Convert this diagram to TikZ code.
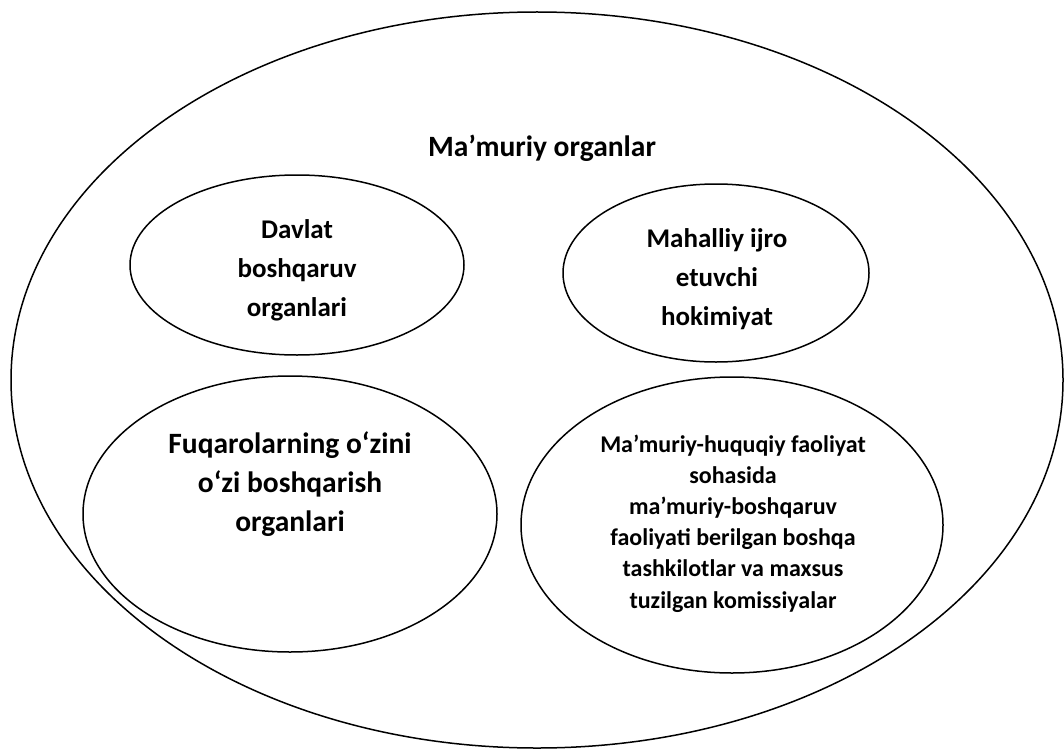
\documentclass[tikz,border=0pt]{standalone}
\usepackage{fontspec}
\setmainfont{Carlito}
\usetikzlibrary{shapes.geometric}

\tikzset{
  organ/.style={draw, ellipse, line width=1.5pt, inner sep=0pt},
  titletext/.style={font=\bfseries\fontsize{29.5}{40}\selectfont, align=center, anchor=base},
  bigtext/.style={font=\bfseries\fontsize{27}{39}\selectfont, align=center, anchor=base},
  smalltext/.style={font=\bfseries\fontsize{24}{31.2}\selectfont, align=center, anchor=base}
}

\begin{document}
\begin{tikzpicture}[x=1pt,y=-1pt]
\useasboundingbox (0,0) rectangle (1064,749);

\node[organ, minimum width=1052, minimum height=736] (mamuriy) at (537,380) {};
\node[titletext] (mamuriy text) at (542,156) {Ma’muriy organlar};

\node[organ, minimum width=334, minimum height=180] (davlat) at (297,265) {};
\node[bigtext] (davlat text) at (297,316) {Davlat\\boshqaruv\\organlari};

\node[organ, minimum width=306, minimum height=178] (mahalliy) at (716,273) {};
\node[bigtext] (mahalliy text) at (717,325) {Mahalliy ijro\\etuvchi\\hokimiyat};

\node[organ, minimum width=414, minimum height=276] (fuqaro) at (290,514) {};
\node[titletext, font=\bfseries\fontsize{29.5}{39}\selectfont] (fuqaro text) at (290,531) {Fuqarolarning o‘zini\\o‘zi boshqarish\\organlari};

\node[organ, minimum width=422, minimum height=296] (boshqa) at (732,525) {};
\node[smalltext] (boshqa text) at (733,608) {Ma’muriy-huquqiy faoliyat\\sohasida\\ma’muriy-boshqaruv\\faoliyati berilgan boshqa\\tashkilotlar va maxsus\\tuzilgan komissiyalar};

\end{tikzpicture}
\end{document}
